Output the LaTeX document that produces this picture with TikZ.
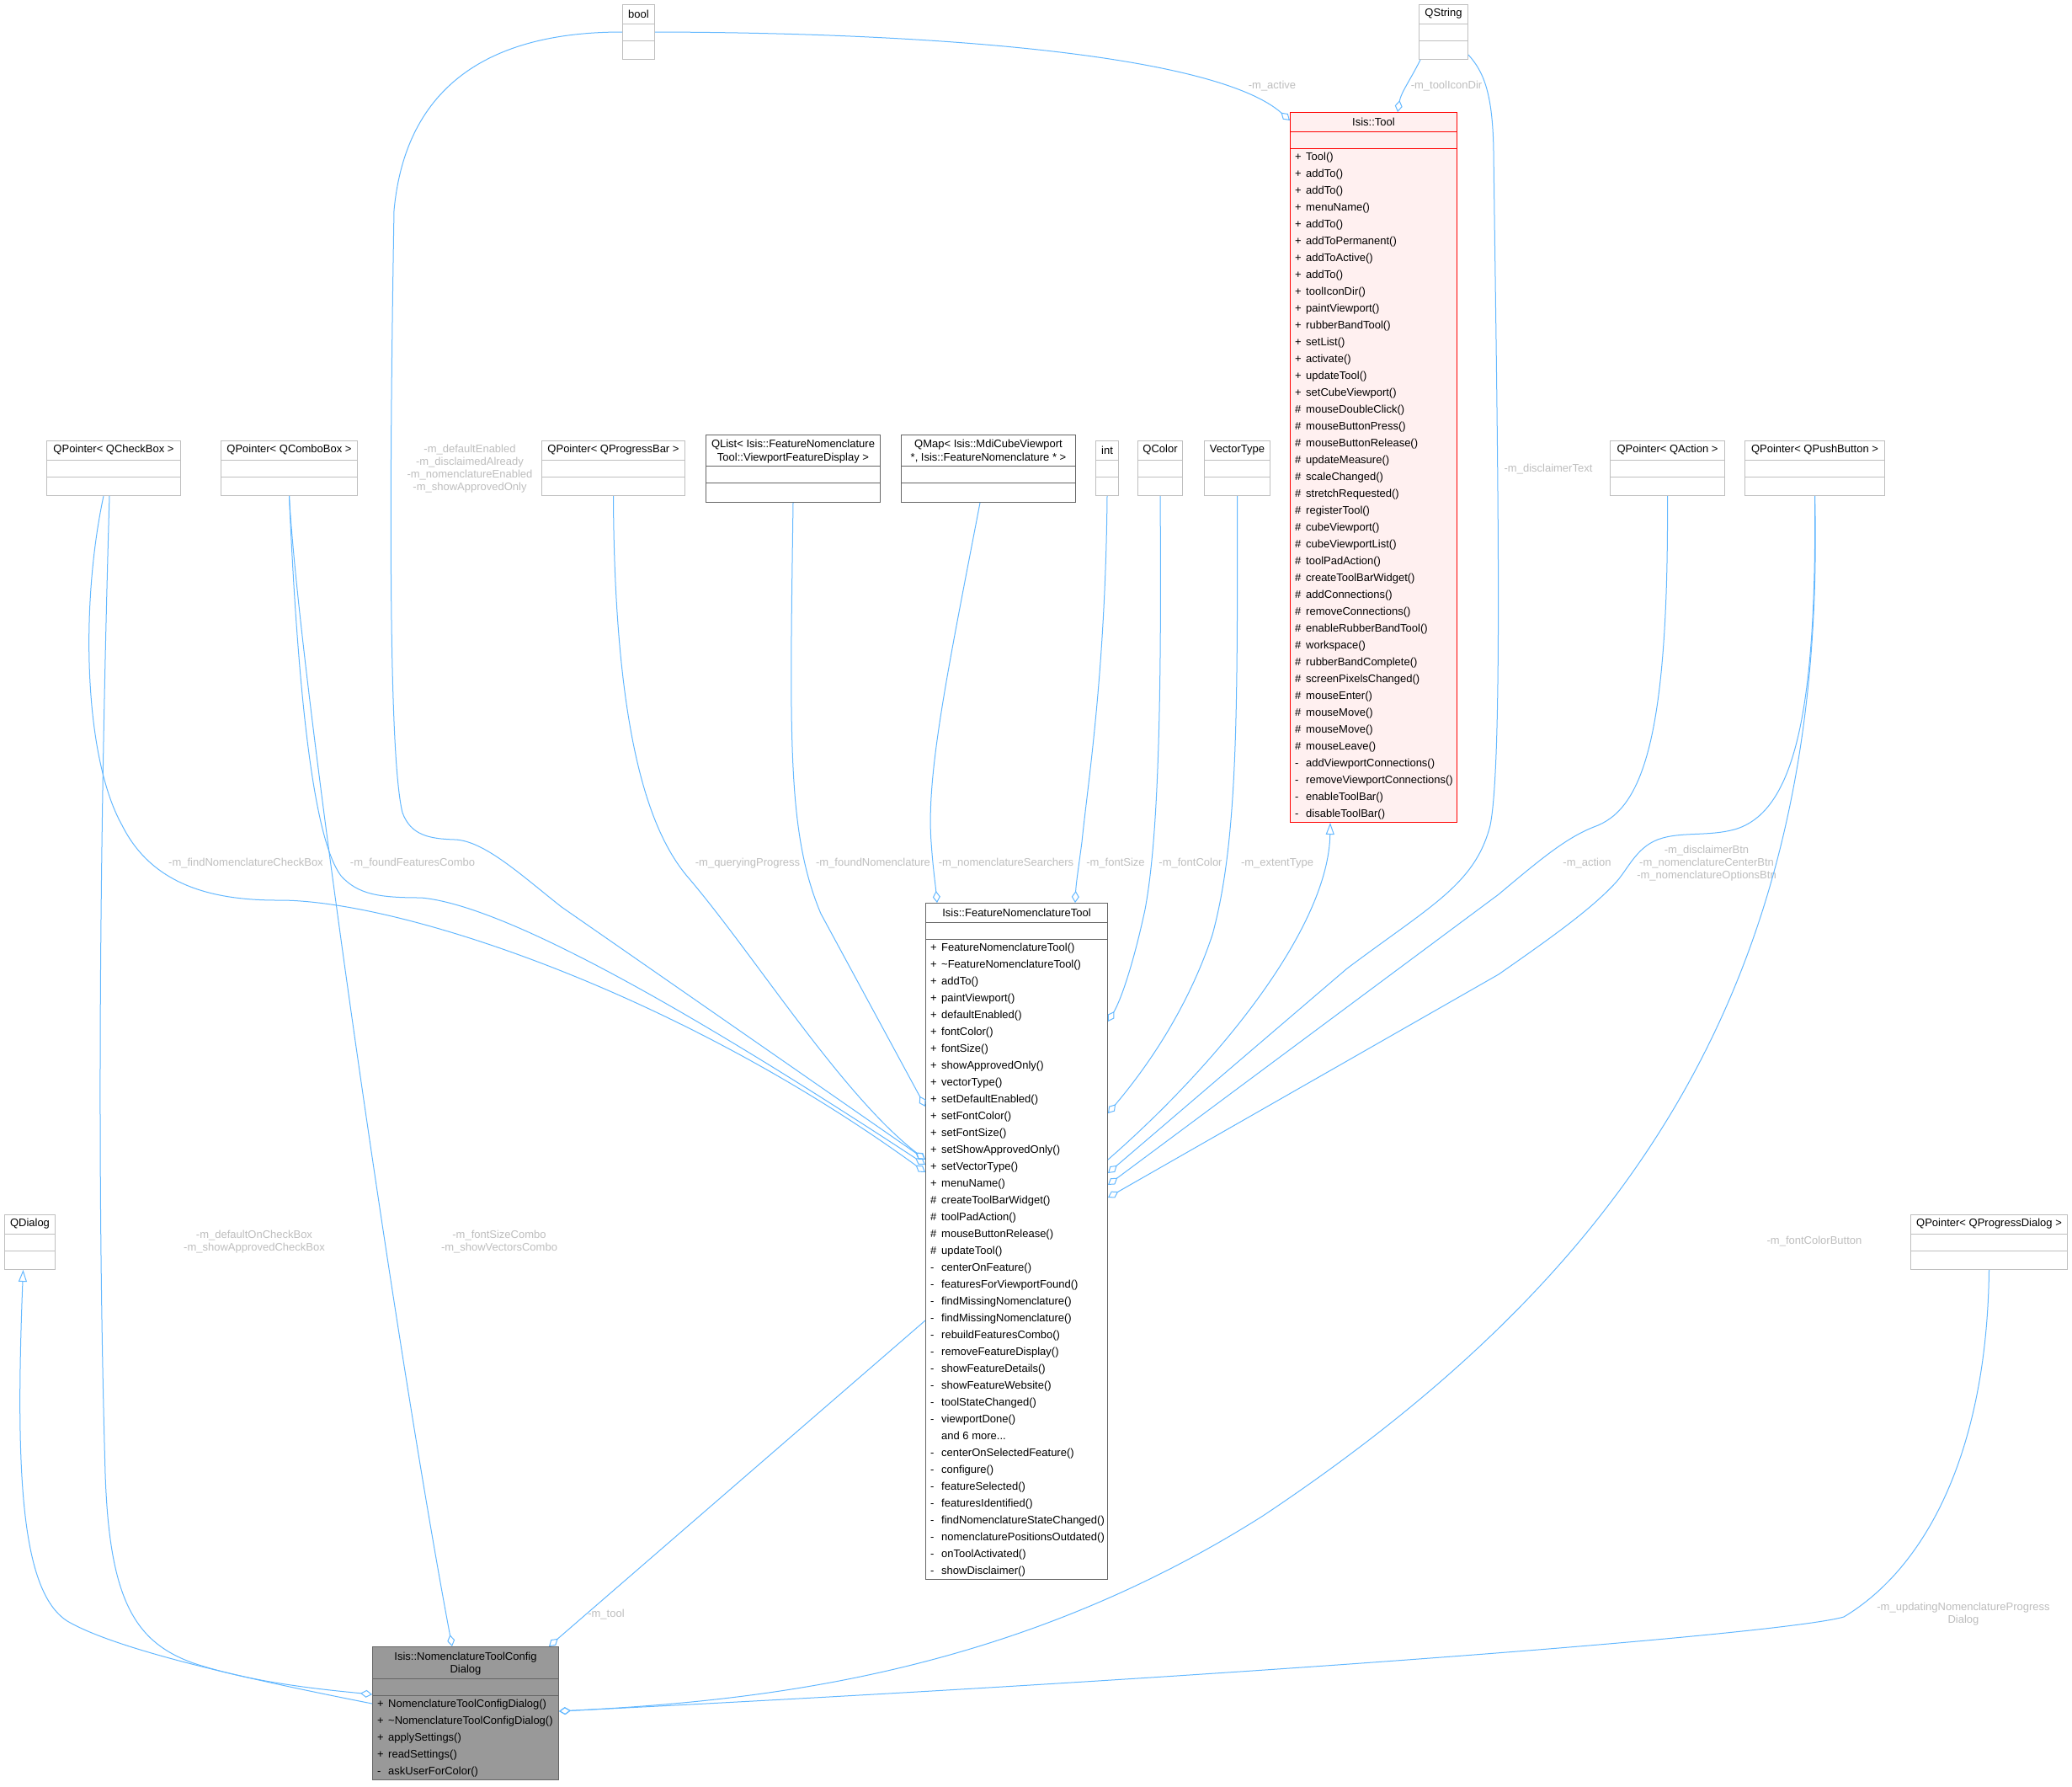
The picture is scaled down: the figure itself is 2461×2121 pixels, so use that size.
\documentclass[tikz,border=0pt]{standalone}
\usepackage{fontspec}
\setmainfont{Liberation Sans}
\usepackage{array}
\usetikzlibrary{calc,arrows.meta}
\definecolor{edgeblue}{HTML}{63B8FF}
\definecolor{lblgrey}{HTML}{BEBEBE}
\definecolor{undoc}{HTML}{BFBFBF}
\definecolor{doc}{HTML}{666666}
\definecolor{toolred}{HTML}{FF0000}
\definecolor{toolfill}{HTML}{FFF0F0}
\definecolor{selfill}{HTML}{999999}
\tikzset{
  box/.style={draw=undoc, line width=1pt, fill=white, anchor=north west, inner sep=0pt},
  sepline/.style={line width=1pt},
  ttl/.style={font=\fontsize{13}{15}\selectfont, align=center, inner sep=0pt},
  ops/.style={font=\fontsize{13}{20}\selectfont, anchor=north west, inner sep=0pt},
  agg/.style={draw=edgeblue, line width=1pt, -{Diamond[open,length=14pt,width=9pt]}},
  inh/.style={draw=edgeblue, line width=1pt, -{Triangle[open,length=14pt,width=10pt]}},
  lab/.style={text=lblgrey, font=\fontsize{13}{15}\selectfont, align=center, inner sep=0pt},
}

\begin{document}
\begin{tikzpicture}[x=1pt, y=-1pt]
  \fill[white] (0,0) rectangle (2461,2121);
  \useasboundingbox (0,0) rectangle (2461,2121);

  % plain classes
  \foreach \nm/\x/\y/\w/\lbl in {bool/739/5/38/bool, qstring/1685/5/58/QString,
      qcheckbox/55/523/159/{QPointer< QCheckBox >}, qcombobox/262/523/162/{QPointer< QComboBox >},
      qprogressbar/643/523/170/{QPointer< QProgressBar >}, int/1301/523/27/int,
      qcolor/1351/523/53/QColor, vectortype/1430/523/78/VectorType,
      qaction/1912/523/136/{QPointer< QAction >}, qpushbutton/2072/523/166/{QPointer< QPushButton >},
      qdialog/5/1442/60/QDialog, qprogressdialog/2269/1442/186/{QPointer< QProgressDialog >}}{
    \node[box, minimum width=\w pt, minimum height=65pt] (\nm) at (\x,\y) {};
    \node[ttl] (\nm-t) at ($(\nm.north)+(0,11.5)$) {\lbl};
    \draw[sepline, undoc] ($(\nm.north west)+(0,23)$) -- ($(\nm.north east)+(0,23)$)
      ($(\nm.north west)+(0,43)$) -- ($(\nm.north east)+(0,43)$);
  }

  % template classes with two line titles
  \foreach \nm/\x/\lbl in {qlist/838/{QList< Isis::FeatureNomenclature\\Tool::ViewportFeatureDisplay >},
      qmap/1070/{QMap< Isis::MdiCubeViewport\\*, Isis::FeatureNomenclature * >}}{
    \node[box, draw=doc, minimum width=207pt, minimum height=80pt] (\nm) at (\x,516) {};
    \node[ttl, font=\fontsize{13}{16}\selectfont] (\nm-t) at ($(\nm.north)+(0,20)$) {\lbl};
    \draw[sepline, doc] ($(\nm.north west)+(0,37)$) -- ($(\nm.north east)+(0,37)$)
      ($(\nm.north west)+(0,57)$) -- ($(\nm.north east)+(0,57)$);
  }

  % Isis::Tool
  \node[box, draw=toolred, fill=toolfill, minimum width=198pt, minimum height=843pt] (tool) at (1532,133) {};
  \node[ttl] (tool-t) at ($(tool.north)+(0,11.5)$) {Isis::Tool};
  \draw[sepline, toolred] ($(tool.north west)+(0,23)$) -- ($(tool.north east)+(0,23)$)
    ($(tool.north west)+(0,43)$) -- ($(tool.north east)+(0,43)$);
  \node[ops] (tool-ops) at ($(tool.north west)+(6,43)$) {\begin{tabular}{@{}p{13pt}@{}l@{}}
    + & Tool()\\ + & addTo()\\ + & addTo()\\ + & menuName()\\ + & addTo()\\
    + & addToPermanent()\\ + & addToActive()\\ + & addTo()\\ + & toolIconDir()\\
    + & paintViewport()\\ + & rubberBandTool()\\ + & setList()\\ + & activate()\\
    + & updateTool()\\ + & setCubeViewport()\\ \# & mouseDoubleClick()\\
    \# & mouseButtonPress()\\ \# & mouseButtonRelease()\\ \# & updateMeasure()\\
    \# & scaleChanged()\\ \# & stretchRequested()\\ \# & registerTool()\\
    \# & cubeViewport()\\ \# & cubeViewportList()\\ \# & toolPadAction()\\
    \# & createToolBarWidget()\\ \# & addConnections()\\ \# & removeConnections()\\
    \# & enableRubberBandTool()\\ \# & workspace()\\ \# & rubberBandComplete()\\
    \# & screenPixelsChanged()\\ \# & mouseEnter()\\ \# & mouseMove()\\
    \# & mouseMove()\\ \# & mouseLeave()\\ - & addViewportConnections()\\
    - & removeViewportConnections()\\ - & enableToolBar()\\ - & disableToolBar()
  \end{tabular}};

  % Isis::FeatureNomenclatureTool
  \node[box, draw=doc, minimum width=216pt, minimum height=803pt] (fnt) at (1099,1072) {};
  \node[ttl] (fnt-t) at ($(fnt.north)+(0,11.5)$) {Isis::FeatureNomenclatureTool};
  \draw[sepline, doc] ($(fnt.north west)+(0,23)$) -- ($(fnt.north east)+(0,23)$)
    ($(fnt.north west)+(0,43)$) -- ($(fnt.north east)+(0,43)$);
  \node[ops] (fnt-ops) at ($(fnt.north west)+(6,43)$) {\begin{tabular}{@{}p{13pt}@{}l@{}}
    + & FeatureNomenclatureTool()\\ + & \textasciitilde FeatureNomenclatureTool()\\
    + & addTo()\\ + & paintViewport()\\ + & defaultEnabled()\\ + & fontColor()\\
    + & fontSize()\\ + & showApprovedOnly()\\ + & vectorType()\\ + & setDefaultEnabled()\\
    + & setFontColor()\\ + & setFontSize()\\ + & setShowApprovedOnly()\\
    + & setVectorType()\\ + & menuName()\\ \# & createToolBarWidget()\\
    \# & toolPadAction()\\ \# & mouseButtonRelease()\\ \# & updateTool()\\
    - & centerOnFeature()\\ - & featuresForViewportFound()\\ - & findMissingNomenclature()\\
    - & findMissingNomenclature()\\ - & rebuildFeaturesCombo()\\ - & removeFeatureDisplay()\\
    - & showFeatureDetails()\\ - & showFeatureWebsite()\\ - & toolStateChanged()\\
    - & viewportDone()\\ & and 6 more...\\ - & centerOnSelectedFeature()\\
    - & configure()\\ - & featureSelected()\\ - & featuresIdentified()\\
    - & findNomenclatureStateChanged()\\ - & nomenclaturePositionsOutdated()\\
    - & onToolActivated()\\ - & showDisclaimer()
  \end{tabular}};

  % Isis::NomenclatureToolConfigDialog
  \node[box, draw=doc, fill=selfill, minimum width=221pt, minimum height=158pt] (ntcd) at (442,1955) {};
  \node[ttl] (ntcd-t) at ($(ntcd.north)+(0,21)$) {Isis::NomenclatureToolConfig\\Dialog};
  \draw[sepline, doc] ($(ntcd.north west)+(0,38)$) -- ($(ntcd.north east)+(0,38)$)
    ($(ntcd.north west)+(0,58)$) -- ($(ntcd.north east)+(0,58)$);
  \node[ops] (ntcd-ops) at ($(ntcd.north west)+(6,58)$) {\begin{tabular}{@{}p{13pt}@{}l@{}}
    + & NomenclatureToolConfigDialog()\\ + & \textasciitilde NomenclatureToolConfigDialog()\\
    + & applySettings()\\ + & readSettings()\\ - & askUserForColor()
  \end{tabular}};

  % members of Isis::Tool
  \draw[agg] (bool.east) .. controls (1150,39) and (1450,70) .. ($(tool.north west)+(0,10)$);
  \draw[agg] ($(qstring.south west)+(2,0)$) .. controls (1675,95) and (1664,110) .. ($(tool.north west)+(128,0)$);
  \node[lab] (l-active) at (1511,102) {-m\_active};
  \node[lab] (l-icondir) at (1718,102) {-m\_toolIconDir};

  % members of Isis::FeatureNomenclatureTool
  \draw[agg] (bool.west) .. controls (560,38) and (480,120) .. (468,250)
    .. controls (462,600) and (462,900) .. (478,965) .. controls (488,992) and (510,996) .. (540,997)
    .. controls (575,998) and (620,1040) .. (667,1077) -- ($(fnt.north west)+(0,305)$);
  \draw[agg] ($(qcheckbox.south)+(-12,0)$) .. controls (95,720) and (100,900) .. (145,980)
    .. controls (180,1050) and (250,1069) .. (330,1069)
    .. controls (470,1068) and (800,1175) .. ($(fnt.north west)+(0,320)$);
  \draw[agg] (qcombobox.south) .. controls (355,850) and (375,1000) .. (405,1040)
    .. controls (425,1062) and (450,1066) .. (500,1066)
    .. controls (600,1075) and (820,1200) .. ($(fnt.north west)+(0,311)$);
  \draw[agg] (qprogressbar.south) .. controls (730,900) and (780,1000) .. (820,1045)
    .. controls (900,1140) and (1000,1300) .. ($(fnt.north west)+(0,305)$);
  \draw[agg] (qlist.south) .. controls (938,880) and (935,990) .. (975,1085) -- ($(fnt.north west)+(0,242)$);
  \draw[agg] ($(qmap.south)+(-10,0)$) .. controls (1125,800) and (1100,920) .. (1106,1000)
    .. controls (1108,1030) and (1111,1050) .. ($(fnt.north west)+(14,0)$);
  \draw[agg] (int.south) .. controls (1313,800) and (1292,930) .. (1285,1000)
    .. controls (1281,1030) and (1278,1050) .. ($(fnt.north west)+(178,0)$);
  \draw[agg] (qcolor.south) .. controls (1380,850) and (1375,1000) .. (1360,1080)
    .. controls (1345,1150) and (1330,1190) .. ($(fnt.north east)+(0,141)$);
  \draw[agg] (vectortype.south) .. controls (1470,850) and (1470,1000) .. (1440,1110)
    .. controls (1410,1200) and (1360,1270) .. ($(fnt.north east)+(0,250)$);
  \draw[inh] ($(fnt.north east)+(0,305)$) .. controls (1450,1260) and (1578,1100) .. ($(tool.south west)+(48,0)$);
  \draw[agg] ($(qstring.south east)+(0,-6)$) .. controls (1762,85) and (1773,110) .. (1774,180)
    .. controls (1778,500) and (1786,900) .. (1770,980) .. controls (1752,1050) and (1700,1075) .. (1600,1150)
    -- ($(fnt.north east)+(0,321)$);
  \draw[agg] (qaction.south) .. controls (1982,880) and (1950,962) .. (1893,982)
    .. controls (1860,995) and (1830,1020) .. (1780,1062) -- ($(fnt.north east)+(0,335)$);
  \draw[agg] (qpushbutton.south) .. controls (2158,850) and (2130,965) .. (2060,985)
    .. controls (2030,993) and (2000,988) .. (1975,995) .. controls (1945,1003) and (1935,1030) .. (1920,1047)
    .. controls (1890,1080) and (1840,1115) .. (1780,1157) -- ($(fnt.north east)+(0,350)$);

  \node[lab] (l-bools) at (558,557) {-m\_defaultEnabled\\-m\_disclaimedAlready\\-m\_nomenclatureEnabled\\-m\_showApprovedOnly};
  \node[lab] (l-disclaimer) at (1839,557) {-m\_disclaimerText};
  \node[lab] (l-findcb) at (292,1025) {-m\_findNomenclatureCheckBox};
  \node[lab] (l-foundcombo) at (490,1025) {-m\_foundFeaturesCombo};
  \node[lab] (l-querying) at (888,1025) {-m\_queryingProgress};
  \node[lab] (l-foundnom) at (1037,1025) {-m\_foundNomenclature};
  \node[lab] (l-searchers) at (1195,1025) {-m\_nomenclatureSearchers};
  \node[lab] (l-fontsize) at (1325,1025) {-m\_fontSize};
  \node[lab] (l-fontcolor) at (1414,1025) {-m\_fontColor};
  \node[lab] (l-extent) at (1517,1025) {-m\_extentType};
  \node[lab] (l-action) at (1885,1025) {-m\_action};
  \node[lab] (l-btns) at (2027,1025) {-m\_disclaimerBtn\\-m\_nomenclatureCenterBtn\\-m\_nomenclatureOptionsBtn};

  % members and base of the config dialog
  \draw[inh] ($(ntcd.north west)+(0,68)$) .. controls (300,1995) and (140,1960) .. (80,1925)
    .. controls (25,1890) and (18,1750) .. ($(qdialog.south)+(-8,0)$);
  \draw[agg] ($(qcheckbox.south)+(-5,0)$) .. controls (118,1000) and (115,1400) .. (125,1750)
    .. controls (130,1900) and (160,1950) .. (230,1975)
    .. controls (300,1998) and (380,2006) .. ($(ntcd.north west)+(0,57)$);
  \draw[agg] (qcombobox.south) .. controls (355,800) and (470,1600) .. ($(ntcd.north west)+(95,0)$);
  \draw[agg] ($(fnt.north west)+(0,496)$) -- ($(ntcd.north west)+(210,0)$);
  \draw[agg] (qpushbutton.south) .. controls (2170,1150) and (1950,1500) .. (1500,1800)
    .. controls (1200,1990) and (900,2020) .. ($(ntcd.north east)+(0,77)$);
  \draw[agg] (qprogressdialog.south) .. controls (2360,1720) and (2290,1860) .. (2190,1920)
    .. controls (2120,1940) and (1500,1990) .. ($(ntcd.north east)+(0,77)$);

  \node[lab] (l-checkboxes) at (302,1475) {-m\_defaultOnCheckBox\\-m\_showApprovedCheckBox};
  \node[lab] (l-combos) at (593,1475) {-m\_fontSizeCombo\\-m\_showVectorsCombo};
  \node[lab] (l-colorbtn) at (2155,1474) {-m\_fontColorButton};
  \node[lab] (l-tool) at (720,1917) {-m\_tool};
  \node[lab] (l-progress) at (2332,1917) {-m\_updatingNomenclatureProgress\\Dialog};
\end{tikzpicture}
\end{document}
